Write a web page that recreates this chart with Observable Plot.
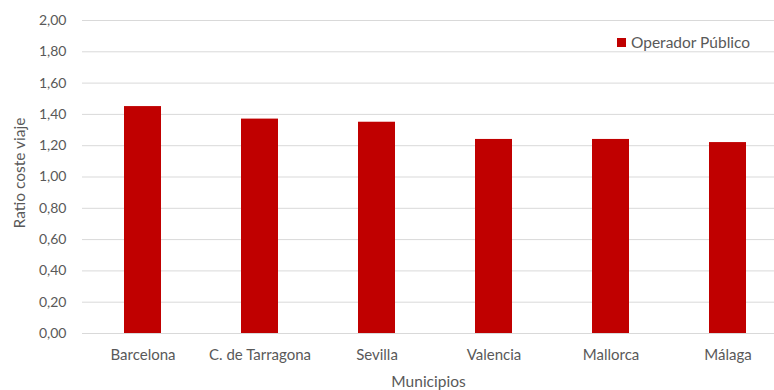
<!DOCTYPE html>
<html>
<head>
<meta charset="utf-8">
<script src="https://cdn.jsdelivr.net/npm/d3@7"></script>
<script src="https://cdn.jsdelivr.net/npm/@observablehq/plot@0.6"></script>
<style>
  html, body { margin: 0; padding: 0; background: #fff; }
  #wrap { position: relative; width: 774px; height: 390px; overflow: hidden; font-family: Lato, sans-serif; }
  #legend { position: absolute; left: 617px; top: 33px; font-size: 15.5px; color: #595959; display: flex; align-items: center; white-space: nowrap; }
  #legend .sw { display: inline-block; width: 9px; height: 9px; background: #c00000; margin-right: 5px; }
</style>
</head>
<body>
<div id="wrap">
  <div id="legend"><span class="sw"></span><span>Operador Público</span></div>
</div>
<script>
const municipios = ["Barcelona", "C. de Tarragona", "Sevilla", "Valencia", "Mallorca", "Málaga"];
const ratios = [1.45, 1.37, 1.35, 1.24, 1.24, 1.22];
const yTicks = [0, 0.2, 0.4, 0.6, 0.8, 1.0, 1.2, 1.4, 1.6, 1.8, 2.0];
const seriesName = "Operador Público";
const xTitle = "Municipios";
const yTitle = "Ratio coste viaje";

const data = municipios.map((m, i) => ({municipio: m, ratio: ratios[i]}));
const fmt = v => v.toFixed(2).replace(".", ",");

const chart = Plot.plot({
  width: 774,
  height: 390,
  marginLeft: 82,
  marginRight: 0,
  marginTop: 20,
  marginBottom: 57,
  style: {fontFamily: "Lato, sans-serif", color: "#595959", background: "transparent"},
  x: {domain: municipios, range: [82, 788], paddingInner: 0.68, paddingOuter: 0.34},
  y: {domain: [0, 2]},
  marks: [
    Plot.gridY(yTicks, {stroke: "#d9d9d9", strokeOpacity: 1, strokeWidth: 1}),
    Plot.barY(data, {x: "municipio", y: "ratio", fill: "#c00000"}),
    Plot.axisY(yTicks, {
      tickSize: 0, tickPadding: 16, tickFormat: fmt, fontSize: 14, fill: "#595959", label: null
    }),
    Plot.axisX({
      tickSize: 0, tickPadding: 16, fontSize: 15, fill: "#595959", label: null
    }),
    Plot.text([xTitle], {
      text: d => d, frameAnchor: "bottom", lineAnchor: "middle", dy: 49,
      fontSize: 15.5, fill: "#595959"
    }),
    Plot.text([yTitle], {
      text: d => d, frameAnchor: "left", textAnchor: "middle", lineAnchor: "middle",
      rotate: -90, dx: -62, dy: -4, fontSize: 15.5, fill: "#595959"
    })
  ]
});
document.getElementById("wrap").prepend(chart);
</script>
</body>
</html>
